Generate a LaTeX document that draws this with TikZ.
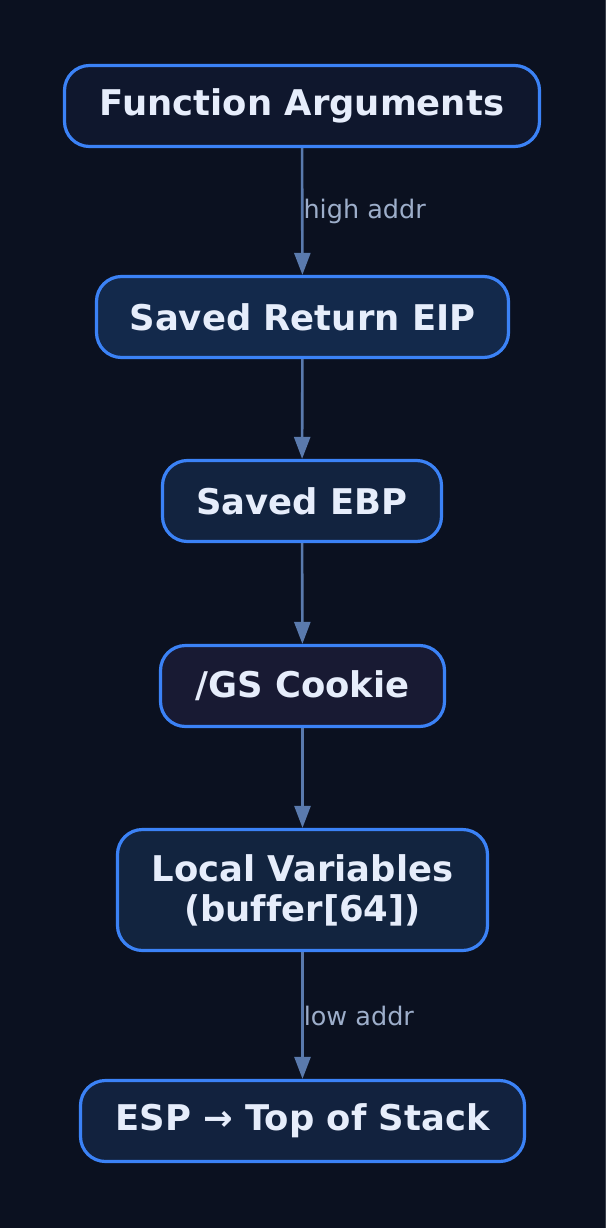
\documentclass[tikz,border=0pt]{standalone}
\usepackage{fontspec}
\setmainfont{DejaVu Sans}[Ligatures=NoCommon]
\usetikzlibrary{arrows.meta}
\definecolor{bgc}{HTML}{0B1120}
\definecolor{bord}{HTML}{3B82F6}
\definecolor{edgec}{HTML}{5A7AAD}
\definecolor{labc}{HTML}{9DAECA}
\definecolor{txtc}{HTML}{E6EDFB}
\definecolor{fA}{HTML}{0F172D}
\definecolor{fB}{HTML}{13294B}
\definecolor{fC}{HTML}{12233F}
\definecolor{fD}{HTML}{181A33}
\definecolor{fE}{HTML}{12243F}
\definecolor{fF}{HTML}{12223E}
\tikzset{
  box/.style={draw=bord, line width=3.2pt, rounded corners=25pt, text=txtc,
    font=\fontsize{35.4}{40}\selectfont\bfseries, align=center,
    minimum height=81pt, inner sep=0pt},
  conn/.style={draw=edgec, line width=2.6pt, -{Triangle[length=22pt,width=16pt]}},
  elab/.style={text=labc, font=\fontsize{25.5}{30}\selectfont, anchor=west, inner sep=0pt}
}
\begin{document}
\begin{tikzpicture}[x=1pt,y=-1pt]
\fill[bgc] (0,0) rectangle (606,1228);
\fill[color={rgb,255:red,58;green,63;blue,74}] (605,0) rectangle (606,1228);
\useasboundingbox (0,0) rectangle (606,1228);
\node[box, fill=fA, minimum width=475pt] (fa) at (302,106) {Function Arguments};
\node[box, fill=fB, minimum width=412pt] (eip) at (302.5,317) {Saved Return EIP};
\node[box, fill=fC, minimum width=279pt] (ebp) at (302,501) {Saved EBP};
\node[box, fill=fD, minimum width=284pt] (gs) at (302.5,686) {/GS Cookie};
\node[box, fill=fE, minimum width=370pt, minimum height=121pt] (lv) at (302.5,890) {Local Variables\\(buffer[64])};
\node[box, fill=fF, minimum width=444pt] (esp) at (302.5,1121) {ESP → Top of Stack};
\draw[conn] (fa) -- node[elab, xshift=0pt] {high addr} (eip);
\draw[conn] (eip) -- (ebp);
\draw[conn] (ebp) -- (gs);
\draw[conn] (gs) -- (lv);
\draw[conn] (lv) -- node[elab, xshift=0pt] {low addr} (esp);
\end{tikzpicture}
\end{document}
